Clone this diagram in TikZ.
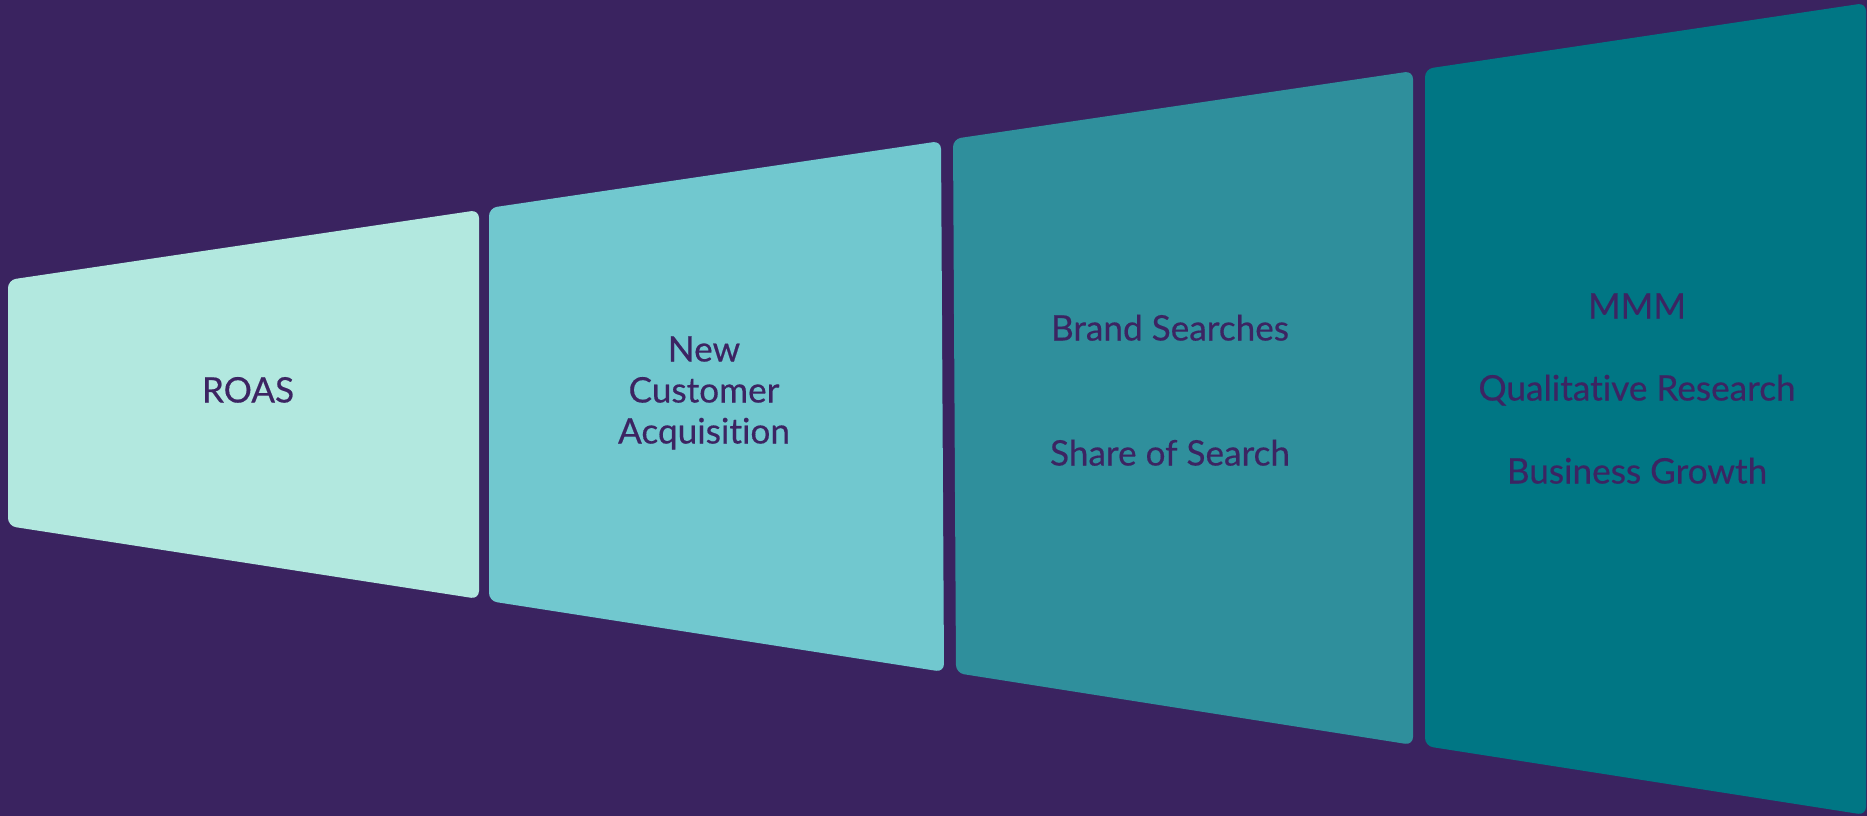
\documentclass[tikz,border=0pt]{standalone}
\usepackage{fontspec}
\setmainfont{Lato}
\newfontfamily\lblfont[FakeBold=0.4,Ligatures={NoCommon}]{Lato}
\definecolor{bgpurple}{HTML}{3A2360}
\definecolor{inkpurple}{HTML}{3C2462}
\definecolor{tealA}{HTML}{B2E8DF}
\definecolor{tealB}{HTML}{71C8CF}
\definecolor{tealC}{HTML}{2F8F9C}
\definecolor{tealD}{HTML}{007684}
\begin{document}
\begin{tikzpicture}[x=0.01cm,y=-0.01cm,
  card/.style={rounded corners=0.08cm},
  lbl/.style={text=inkpurple, font=\lblfont\fontsize{10pt}{12pt}\selectfont,
    inner sep=0pt, text height=0.25cm, text depth=0pt}]
  % background
  \fill[bgpurple] (0,0) rectangle (1867,816);
  \useasboundingbox (0,0) rectangle (1867,816);

  % widening funnel of four cards
  \fill[tealA, card] (8,280) -- (479,210) -- (479,599) -- (8,526) -- cycle;
  \fill[tealB, card] (489,208) -- (941,141) -- (944,672) -- (489,601) -- cycle;
  \fill[tealC, card] (953,139) -- (1413,71) -- (1413,745) -- (956,673) -- cycle;
  \fill[tealD, card] (1425,69) -- (1866,3) -- (1866,815) -- (1425,746) -- cycle;

  % labels
  \node[lbl] (roas) at (248,390) {ROAS};

  \node[lbl] (new)  at (704,349) {New};
  \node[lbl] (cust) at (704,390) {Customer};
  \node[lbl] (acq)  at (704,431) {Acquisition};

  \node[lbl] (brand) at (1170,328) {Brand Searches};
  \node[lbl] (share) at (1170,453) {Share of Search};

  \node[lbl] (mmm)  at (1637,306) {MMM};
  \node[lbl] (qual) at (1637,388) {Qualitative Research};
  \node[lbl] (grow) at (1637,471) {Business Growth};
\end{tikzpicture}
\end{document}
